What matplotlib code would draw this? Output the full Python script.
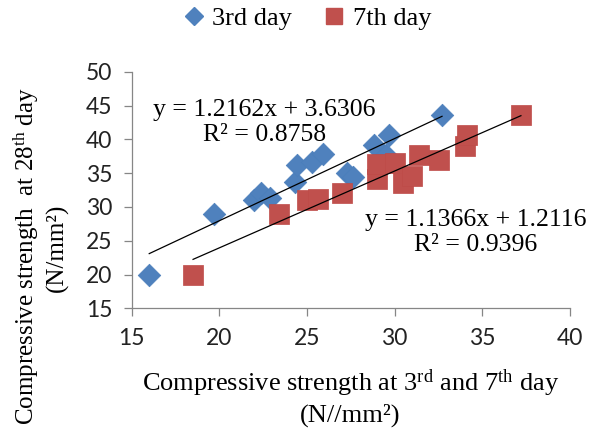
import numpy as np
import matplotlib
matplotlib.use('Agg')
import matplotlib.pyplot as plt
from matplotlib.lines import Line2D

# values
day3_x = [16.0, 19.7, 22.0, 22.4, 22.9, 24.3, 24.4, 25.3, 25.9, 27.3, 27.6, 28.8, 29.5, 29.7, 32.7]
day3_y = [20.0, 29.0, 31.0, 32.0, 31.3, 33.7, 36.2, 36.7, 37.8, 35.0, 34.4, 39.2, 37.7, 40.7, 43.6]

day7_x = [18.5, 23.4, 25.0, 25.6, 27.0, 29.0, 29.0, 30.0, 30.5, 31.0, 31.4, 32.5, 34.0, 34.1, 37.2]
day7_y = [20.0, 29.0, 31.0, 31.2, 32.0, 34.2, 36.4, 36.5, 33.5, 34.5, 37.7, 37.0, 39.0, 40.6, 43.6]

# trendline coefficients as printed on the chart
fit3 = (1.2162, 3.6306, 0.8758)
fit7 = (1.1366, 1.2116, 0.9396)

series_names = ['3rd day', '7th day']
x_ticks = [15, 20, 25, 30, 35, 40]
y_ticks = [15, 20, 25, 30, 35, 40, 45, 50]

BLUE = '#4F81BD'
RED = '#C0504D'
GREY = '#868686'
SERIF = 'Liberation Serif'

plt.rcParams['mathtext.fontset'] = 'custom'
plt.rcParams['mathtext.rm'] = SERIF
plt.rcParams['mathtext.it'] = SERIF + ':italic'


def trend(ax, xs, coef):
    slope, icpt, _ = coef
    xx = np.array([min(xs), max(xs)])
    ax.plot(xx, slope * xx + icpt, color='black', lw=0.9, zorder=5)


def eq_text(coef):
    slope, icpt, r2 = coef
    return 'y = %.4fx + %.4f\nR² = %.4f' % (slope, icpt, r2)


def main():
    fig = plt.figure(figsize=(6.01, 4.32), dpi=100)
    ax = fig.add_axes([131.7 / 601, 1 - 308.3 / 432, (570 - 131.7) / 601, (308.3 - 71.7) / 432])

    ax.scatter(day3_x, day3_y, marker='D', s=11.5 ** 2, color=BLUE, edgecolors='#4A7EBB',
               linewidths=0.5, zorder=3)
    ax.scatter(day7_x, day7_y, marker='s', s=15 ** 2, color=RED, edgecolors='#BE4B48',
               linewidths=0.5, zorder=4)
    trend(ax, day3_x, fit3)
    trend(ax, day7_x, fit7)

    ax.set_xlim(15, 40)
    ax.set_ylim(15, 50)
    ax.set_xticks(x_ticks)
    ax.set_yticks(y_ticks)
    for s in ['top', 'right']:
        ax.spines[s].set_visible(False)
    for s in ['left', 'bottom']:
        ax.spines[s].set_color(GREY)
        ax.spines[s].set_linewidth(0.9)
    ax.tick_params(direction='out', length=6, width=0.9, color=GREY, labelsize=16.5, pad=8)
    for lab in ax.get_xticklabels() + ax.get_yticklabels():
        lab.set_fontfamily('Lato')
        lab.set_color('#222222')

    ax.text(22.55, 42.5, eq_text(fit3), ha='center', va='center', fontsize=18.5,
            family=SERIF, linespacing=1.15, zorder=6)
    ax.text(34.6, 26.2, eq_text(fit7), ha='center', va='center', fontsize=18.5,
            family=SERIF, linespacing=1.2, zorder=6)

    fig.text(351 / 601, 1 - 383 / 432, r'Compressive strength at 3$^{\mathrm{rd}}$ and 7$^{\mathrm{th}}$ day',
             ha='center', va='center', fontsize=19, family=SERIF)
    fig.text(350 / 601, 1 - 415 / 432, '(N//mm²)', ha='center', va='center', fontsize=19, family=SERIF)
    fig.text(26 / 601, 1 - 256 / 432, r'Compressive strength  at 28$^{\mathrm{th}}$ day',
             ha='center', va='center', rotation=90, fontsize=18, family=SERIF)
    fig.text(57 / 601, 1 - 248 / 432, '(N/mm²)', ha='center', va='center', rotation=90,
             fontsize=18, family=SERIF)

    handles = [Line2D([], [], ls='none', marker='D', ms=9, color=BLUE),
               Line2D([], [], ls='none', marker='s', ms=12, color=RED)]
    fig.legend(handles, series_names, loc='center', bbox_to_anchor=(307 / 601, 1 - 18 / 432),
               ncol=2, frameon=False, prop={'family': SERIF, 'size': 19},
               handlelength=0.8, handletextpad=0.3, columnspacing=1.2)

    fig.savefig('out.png', dpi=100)


if __name__ == "__main__":
    main()
